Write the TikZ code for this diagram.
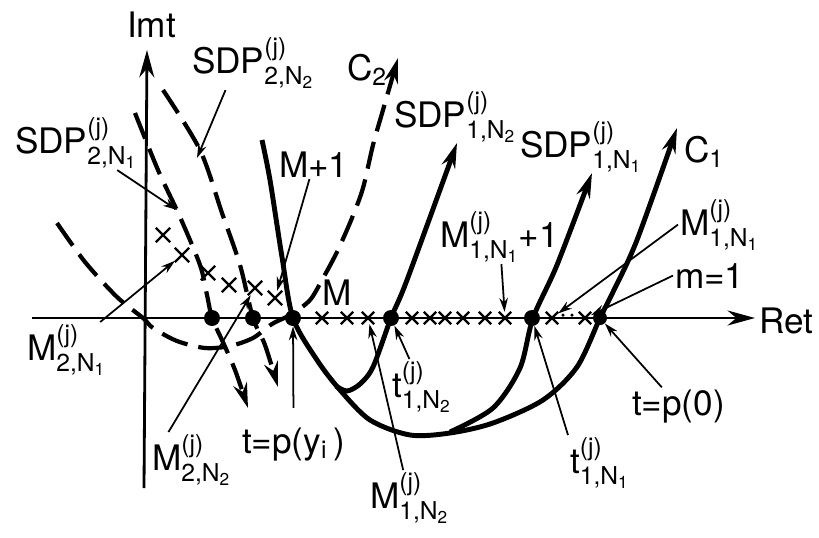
\documentclass[tikz,border=0pt]{standalone}
\usepackage{amsmath}
\usepackage{fontspec}
\setmainfont{TeX Gyre Heros}
\usetikzlibrary{arrows.meta, shapes.misc}

\newcommand{\jlab}[3]{#1$^{\text{(j)}}_{\text{#2,N$_{\text{#3}}$}}$}

\begin{document}
\begin{tikzpicture}[x=0.02cm, y=-0.02cm,
    axis/.style={line width=1.6pt, -{Stealth[length=5.5mm, width=3mm]}},
    contour/.style={line width=2.8pt},
    sdpline/.style={line width=2.4pt, dash pattern=on 0.55cm off 0.22cm},
    tip/.style={-{Stealth[length=5mm, width=2.8mm]}},
    ptr/.style={line width=1pt, -{Stealth[length=2.8mm, width=1.7mm]}},
    pt/.style={circle, fill, inner sep=0pt, minimum size=0.32cm},
    xmark/.style={cross out, draw, line width=1.3pt, inner sep=0pt, minimum size=0.2cm},
    lbl/.style={anchor=base west, inner sep=1pt, font=\fontsize{20}{24}\selectfont}
]
\useasboundingbox (0,0) rectangle (819,538);

% axes
\draw[axis] (32,318) -- (755,318);
\draw[axis] (144,488) -- (147,50);

% C_1 and the steepest descent paths through t_1
\draw[contour, tip] plot[smooth] coordinates {(262,140) (270,180) (282,257) (293,318)
    (317,360) (340,390) (370,420) (410,435) (450,433) (493,423) (543,400) (577,367)
    (600,318) (613,292) (637,240) (677,128)};
\draw[contour, tip] plot[smooth] coordinates {(336,386) (347,391) (360,384) (373,367)
    (391,318) (407,280) (457,143)};
\draw[contour, tip] plot[smooth] coordinates {(450,432) (493,408) (520,368) (533,318)
    (557,265) (592,173)};

% C_2 and the steepest descent paths through t_2
\draw[sdpline, tip] plot[smooth] coordinates {(57,223) (85,262) (117,297) (143,318)
    (153,328) (177,341) (205,348) (230,346) (253,338) (272,324) (292,314) (310,300)
    (322,280) (337,252) (352,218) (363,188) (373,145) (383,110) (398,58)};
\draw[sdpline, tip] plot[smooth] coordinates {(135,113) (158,170) (180,217) (200,265)
    (207,295) (212,318) (222,340) (235,370) (248,408)};
\draw[sdpline, tip] plot[smooth] coordinates {(163,90) (200,150) (222,213) (240,265)
    (253,318) (265,345) (278,387)};

\node[pt] (s1) at (212,318) {};
\node[pt] (s2) at (253,318) {};
\node[pt] (pm) at (293,318) {};
\node[pt] (tt2) at (391,318) {};
\node[pt] (tt1) at (532,318) {};
\node[pt, minimum size=0.28cm] (p0) at (600,318) {};

\node[xmark] (a1) at (322,318) {};
\node[xmark] (a2) at (347,318) {};
\node[xmark] (a3) at (368,318) {};
\node[xmark] (a4) at (412,318) {};
\node[xmark] (a5) at (430,318) {};
\node[xmark] (a6) at (445,318) {};
\node[xmark] (a7) at (463,318) {};
\node[xmark] (a8) at (485,318) {};
\node[xmark] (a9) at (505,318) {};
\node[xmark] (a10) at (552,318) {};
\node[xmark] (a11) at (585,318) {};
\node[circle, fill, inner sep=0pt, minimum size=0.07cm] (e1) at (563,315) {};
\node[circle, fill, inner sep=0pt, minimum size=0.07cm] (e2) at (572,315) {};

\node[xmark, minimum size=0.24cm] (c1) at (163,235) {};
\node[xmark, minimum size=0.24cm] (c2) at (182,255) {};
\node[xmark, minimum size=0.24cm] (c3) at (208,273) {};
\node[xmark, minimum size=0.24cm] (c4) at (229,285) {};
\node[xmark, minimum size=0.24cm] (c5) at (255,288) {};
\node[xmark, minimum size=0.24cm] (c6) at (275,298) {};

\coordinate (qa) at (177,210);
\coordinate (qb) at (197,158);

\node[lbl] (imt) at (125,37) {Imt};
\node[lbl] (ret) at (757,333) {Ret};
\node[lbl] (sdpa) at (13,153) {\jlab{SDP}{2}{1}};
\node[lbl] (sdpb) at (190,73) {\jlab{SDP}{2}{2}};
\node[lbl] (ctwo) at (345,80) {C$_{\text{2}}$};
\node[lbl] (mplus) at (277,177) {M+1};
\node[lbl] (sdpc) at (392,127) {\jlab{SDP}{1}{2}};
\node[lbl] (sdpd) at (518,157) {\jlab{SDP}{1}{1}};
\node[lbl] (cone) at (682,162) {C$_{\text{1}}$};
\node[lbl] (ma) at (678,235) {\jlab{M}{1}{1}};
\node[lbl] (maplus) at (438,247) {\jlab{M}{1}{1}+1};
\node[lbl] (mone) at (673,288) {m=1};
\node[lbl] (mlab) at (320,305) {M};
\node[lbl] (mb) at (25,360) {\jlab{M}{2}{1}};
\node[lbl] (mc) at (150,470) {\jlab{M}{2}{2}};
\node[lbl] (tpy) at (240,453) {t=p(y$_{\text{i}}$\,)};
\node[lbl] (md) at (368,508) {\jlab{M}{1}{2}};
\node[lbl] (tb) at (390,397) {\jlab{t}{1}{2}};
\node[lbl] (ta) at (568,473) {\jlab{t}{1}{1}};
\node[lbl] (tpz) at (630,415) {t=p(0)};

\draw[ptr] (sdpa) -- (qa);
\draw[ptr] (sdpb.225) -- (qb);
\draw[ptr] (mplus) -- (c6);
\draw[ptr] (mb) -- (c2);
\draw[ptr] (mc.130) -- (c5);
\draw[ptr, shorten <=0.35cm] (tpy) -- (pm);
\draw[ptr] (md) -- (a3);
\draw[ptr] (tb) -- (tt2);
\draw[ptr] (maplus) -- (a9);
\draw[ptr] (ta.north west) -- (tt1);
\draw[ptr] (ma.west) -- (a10);
\draw[ptr] (mone.west) -- (a11);
\draw[ptr] (tpz) -- (p0);
\end{tikzpicture}
\end{document}
